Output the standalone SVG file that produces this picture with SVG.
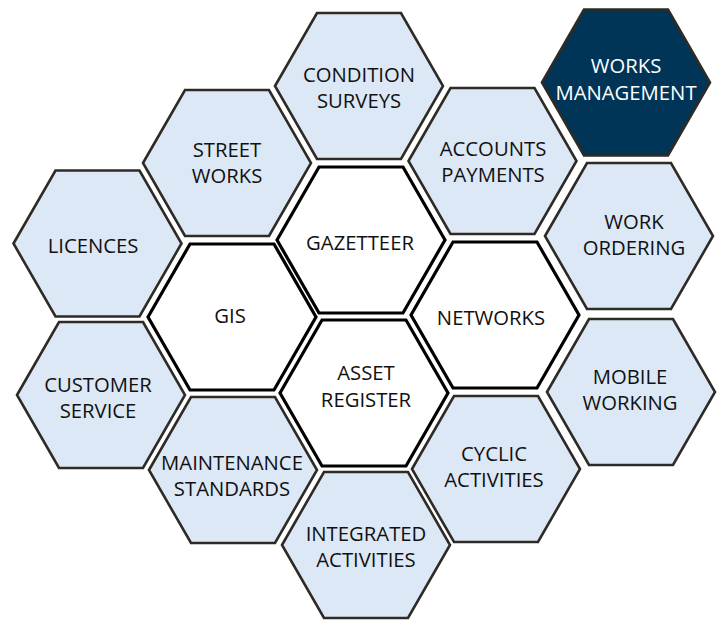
<svg xmlns="http://www.w3.org/2000/svg" xmlns:xlink="http://www.w3.org/1999/xlink" width="719" height="620" viewBox="0 0 719 620">
<style>
.hl{fill:#dce8f5;stroke:#2e2b26;stroke-width:2.6;stroke-linejoin:miter}
.hw{fill:#ffffff;stroke:#000000;stroke-width:3.2;stroke-linejoin:miter}
.hd{fill:#003558;stroke:#2e2b26;stroke-width:2.6;stroke-linejoin:miter}
text{font-family:"Open Sans","Liberation Sans",sans-serif;font-size:20.3px;text-anchor:middle;fill:#111111}
text.inv{fill:#ffffff}
</style>
<defs>
<polygon id="hex" points="-84,0 -42,-73 42,-73 84,0 42,73 -42,73"/>
</defs>
<rect width="719" height="620" fill="#ffffff"/>
<g id="condition-surveys"><use xlink:href="#hex" class="hl" transform="translate(359,86)"/><text x="359" y="82">CONDITION</text><text x="359" y="108">SURVEYS</text></g>
<g id="works-management"><use xlink:href="#hex" class="hd" transform="translate(626,82.5)"/><text class="inv" x="626" y="73">WORKS</text><text class="inv" x="626" y="100">MANAGEMENT</text></g>
<g id="street-works"><use xlink:href="#hex" class="hl" transform="translate(227,163)"/><text x="227" y="157">STREET</text><text x="227" y="183">WORKS</text></g>
<g id="accounts-payments"><use xlink:href="#hex" class="hl" transform="translate(492.5,161)"/><text x="493" y="156">ACCOUNTS</text><text x="493" y="182">PAYMENTS</text></g>
<g id="licences"><use xlink:href="#hex" class="hl" transform="translate(97.5,243.5)"/><text x="93" y="253">LICENCES</text></g>
<g id="gazetteer"><use xlink:href="#hex" class="hw" transform="translate(361,240)"/><text x="360" y="250">GAZETTEER</text></g>
<g id="work-ordering"><use xlink:href="#hex" class="hl" transform="translate(629,236)"/><text x="634" y="229">WORK</text><text x="634" y="255">ORDERING</text></g>
<g id="gis"><use xlink:href="#hex" class="hw" transform="translate(232,317)"/><text x="230" y="323">GIS</text></g>
<g id="networks"><use xlink:href="#hex" class="hw" transform="translate(495,315)"/><text x="491" y="325">NETWORKS</text></g>
<g id="customer-service"><use xlink:href="#hex" class="hl" transform="translate(101,395)"/><text x="98" y="392">CUSTOMER</text><text x="98" y="418">SERVICE</text></g>
<g id="asset-register"><use xlink:href="#hex" class="hw" transform="translate(364,393)"/><text x="366" y="380">ASSET</text><text x="366" y="407">REGISTER</text></g>
<g id="mobile-working"><use xlink:href="#hex" class="hl" transform="translate(631,392)"/><text x="630" y="384">MOBILE</text><text x="630" y="410">WORKING</text></g>
<g id="maintenance-standards"><use xlink:href="#hex" class="hl" transform="translate(233,470)"/><text x="232" y="470">MAINTENANCE</text><text x="232" y="496">STANDARDS</text></g>
<g id="cyclic-activities"><use xlink:href="#hex" class="hl" transform="translate(496,469)"/><text x="494" y="461">CYCLIC</text><text x="494" y="487">ACTIVITIES</text></g>
<g id="integrated-activities"><use xlink:href="#hex" class="hl" transform="translate(366,545)"/><text x="366" y="541">INTEGRATED</text><text x="366" y="567">ACTIVITIES</text></g>
</svg>
